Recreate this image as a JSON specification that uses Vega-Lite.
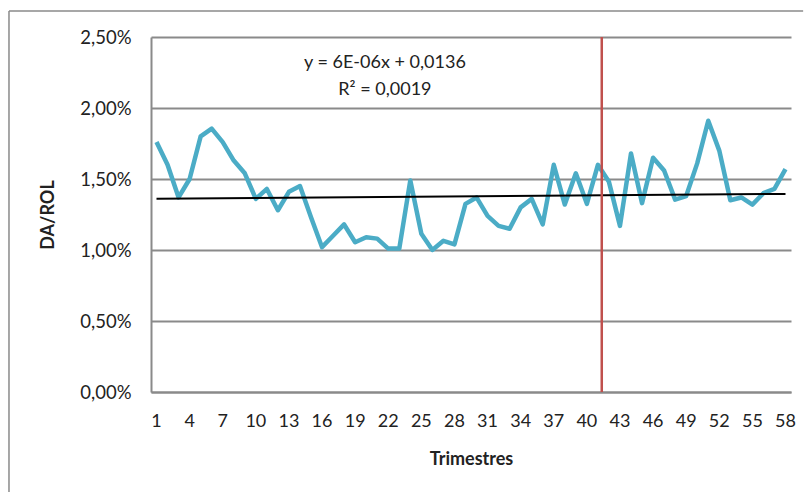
{
  "$schema": "https://vega.github.io/schema/vega-lite/v6.json",
  "autosize": {"type": "none"},
  "width": 640,
  "height": 355,
  "padding": {"left": 151, "top": 37, "right": 17, "bottom": 100},
  "background": "white",
  "datasets": {
    "series": [
      {"t": 1, "v": 0.0176}, {"t": 2, "v": 0.016}, {"t": 3, "v": 0.0137}, {"t": 4, "v": 0.015},
      {"t": 5, "v": 0.018}, {"t": 6, "v": 0.01855}, {"t": 7, "v": 0.0176}, {"t": 8, "v": 0.0163},
      {"t": 9, "v": 0.0154}, {"t": 10, "v": 0.0136}, {"t": 11, "v": 0.0143}, {"t": 12, "v": 0.0128},
      {"t": 13, "v": 0.0141}, {"t": 14, "v": 0.0145}, {"t": 15, "v": 0.0123}, {"t": 16, "v": 0.0102},
      {"t": 17, "v": 0.011}, {"t": 18, "v": 0.0118}, {"t": 19, "v": 0.01055}, {"t": 20, "v": 0.0109},
      {"t": 21, "v": 0.0108}, {"t": 22, "v": 0.0101}, {"t": 23, "v": 0.0101}, {"t": 24, "v": 0.0149},
      {"t": 25, "v": 0.01115}, {"t": 26, "v": 0.01}, {"t": 27, "v": 0.01065}, {"t": 28, "v": 0.0104},
      {"t": 29, "v": 0.01325}, {"t": 30, "v": 0.0137}, {"t": 31, "v": 0.0124}, {"t": 32, "v": 0.0117},
      {"t": 33, "v": 0.0115}, {"t": 34, "v": 0.013}, {"t": 35, "v": 0.0136}, {"t": 36, "v": 0.0118},
      {"t": 37, "v": 0.016}, {"t": 38, "v": 0.0132}, {"t": 39, "v": 0.0154}, {"t": 40, "v": 0.01325},
      {"t": 41, "v": 0.016}, {"t": 42, "v": 0.0148}, {"t": 43, "v": 0.0117}, {"t": 44, "v": 0.0168},
      {"t": 45, "v": 0.0133}, {"t": 46, "v": 0.0165}, {"t": 47, "v": 0.0156}, {"t": 48, "v": 0.01355},
      {"t": 49, "v": 0.0138}, {"t": 50, "v": 0.0161}, {"t": 51, "v": 0.0191}, {"t": 52, "v": 0.017},
      {"t": 53, "v": 0.0135}, {"t": 54, "v": 0.0137}, {"t": 55, "v": 0.0132}, {"t": 56, "v": 0.014},
      {"t": 57, "v": 0.0143}, {"t": 58, "v": 0.0157}
    ],
    "trend": [{"t": 1, "v": 0.013606}, {"t": 58, "v": 0.013948}],
    "marker": [{"t": 41.35}],
    "labels": [
      {"t": 21.7, "v": 0.0232, "txt": "y = 6E-06x + 0,0136"},
      {"t": 21.7, "v": 0.0213, "txt": "R² = 0,0019"}
    ],
    "ticks": [
      {"t": 1}, {"t": 4}, {"t": 7}, {"t": 10}, {"t": 13}, {"t": 16}, {"t": 19}, {"t": 22}, {"t": 25}, {"t": 28},
      {"t": 31}, {"t": 34}, {"t": 37}, {"t": 40}, {"t": 43}, {"t": 46}, {"t": 49}, {"t": 52}, {"t": 55}, {"t": 58}
    ],
    "frame": [
      {"x1": -12.37, "x2": -12.37, "y1": 0.02683, "y2": -0.00706},
      {"x1": -12.37, "x2": 59.6, "y1": 0.02683, "y2": 0.02683}
    ]
  },
  "config": {
    "font": "Lato",
    "view": {"stroke": null},
    "axis": {"labelFont": "Lato", "titleFont": "Lato", "labelColor": "#222", "titleColor": "#222"}
  },
  "layer": [
    {
      "data": {"name": "series"},
      "mark": {"type": "line", "color": "#4BACC6", "strokeWidth": 4.5, "strokeJoin": "round"},
      "encoding": {
        "x": {
          "field": "t", "type": "quantitative",
          "scale": {"domain": [0.5, 58.5], "nice": false},
          "axis": {
            "values": [1, 58],
            "grid": false, "ticks": false, "labels": false, "domainColor": "#8a8a8a", "domainWidth": 2,
            "title": "Trimestres", "titleFontSize": 18, "titleFontWeight": "bold", "titlePadding": 58
          }
        },
        "y": {
          "field": "v", "type": "quantitative",
          "scale": {"domain": [0, 0.025], "nice": false},
          "axis": {
            "values": [0, 0.005, 0.01, 0.015, 0.02, 0.025],
            "labelExpr": "replace(format(datum.value, '.2%'), '.', ',')",
            "grid": true, "gridColor": "#8a8a8a", "gridWidth": 2,
            "ticks": false, "domainColor": "#8a8a8a", "domainWidth": 2,
            "labelFontSize": 18.5, "labelPadding": 20,
            "title": "DA/ROL", "titleFontSize": 18, "titleFontWeight": "bold", "titlePadding": 22
          }
        }
      }
    },
    {
      "data": {"name": "ticks"},
      "mark": {"type": "text", "fontSize": 18, "font": "Lato", "color": "#222", "baseline": "middle", "dy": 30, "clip": false},
      "encoding": {
        "x": {"field": "t", "type": "quantitative"},
        "y": {"datum": 0},
        "text": {"field": "t", "type": "quantitative", "format": "d"}
      }
    },
    {
      "data": {"name": "trend"},
      "mark": {"type": "line", "color": "black", "strokeWidth": 2},
      "encoding": {
        "x": {"field": "t", "type": "quantitative"},
        "y": {"field": "v", "type": "quantitative"}
      }
    },
    {
      "data": {"name": "marker"},
      "mark": {"type": "rule", "color": "#C0504D", "strokeWidth": 2.5},
      "encoding": {
        "x": {"field": "t", "type": "quantitative"}
      }
    },
    {
      "data": {"name": "labels"},
      "mark": {"type": "text", "fontSize": 18, "font": "Lato", "color": "#222"},
      "encoding": {
        "x": {"field": "t", "type": "quantitative"},
        "y": {"field": "v", "type": "quantitative"},
        "text": {"field": "txt"}
      }
    },
    {
      "data": {"name": "frame"},
      "mark": {"type": "rule", "stroke": "#8a8a8a", "strokeWidth": 1.5, "clip": false},
      "encoding": {
        "x": {"field": "x1", "type": "quantitative"},
        "x2": {"field": "x2"},
        "y": {"field": "y1", "type": "quantitative"},
        "y2": {"field": "y2"}
      }
    }
  ]
}
